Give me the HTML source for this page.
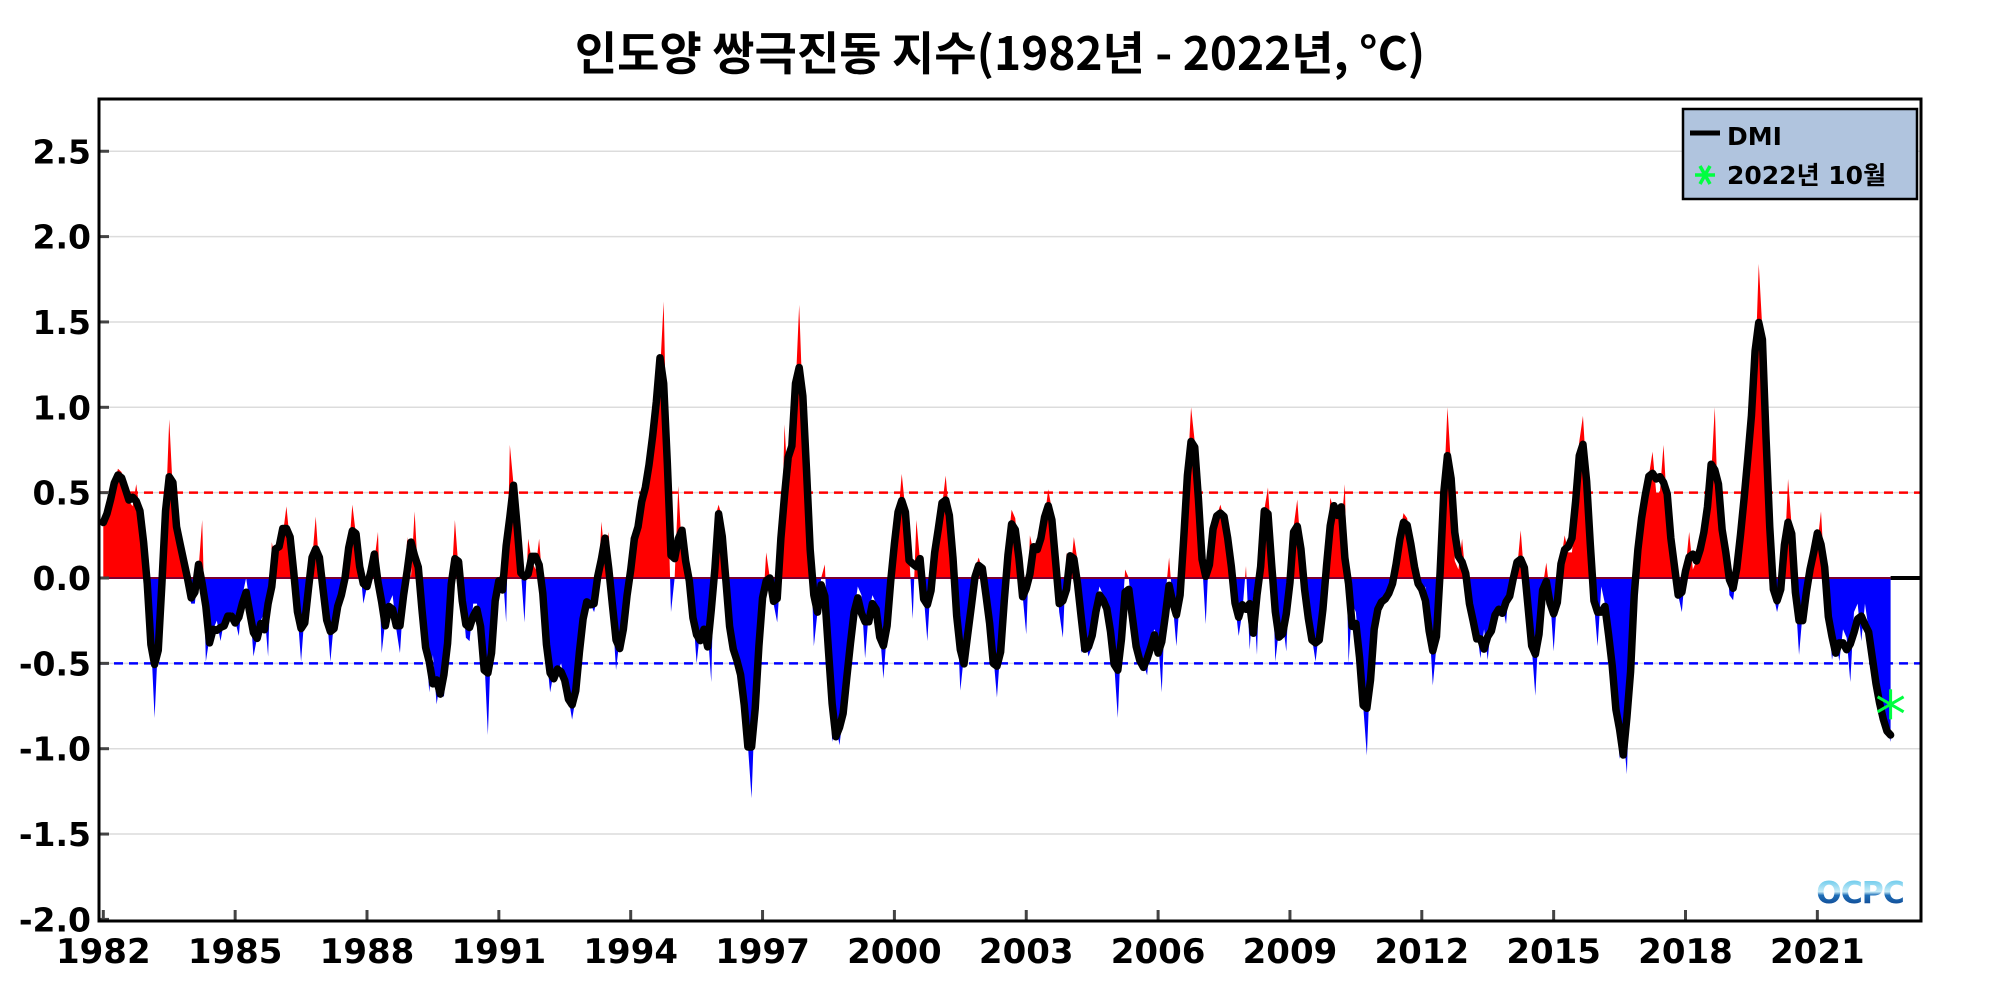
<!DOCTYPE html>
<html><head><meta charset="utf-8"><title>DMI</title>
<style>
html,body{margin:0;padding:0;background:#fff;}
svg{display:block;}
text{font-family:"DejaVu Sans","Noto Sans CJK KR",sans-serif;font-weight:bold;}
</style></head>
<body>
<svg id="chart" width="2000" height="1000" viewBox="0 0 2000 1000" xmlns="http://www.w3.org/2000/svg">
  <defs>
    <clipPath id="clipPos"><rect x="99" y="99" width="1822" height="479"/></clipPath>
    <clipPath id="clipNeg"><rect x="99" y="578" width="1822" height="343"/></clipPath>
    <linearGradient id="logoGrad" x1="0" y1="0" x2="0" y2="1">
      <stop offset="0" stop-color="#4fc0e8"/><stop offset="0.45" stop-color="#c8ecf8"/><stop offset="0.55" stop-color="#1f6fb8"/><stop offset="1" stop-color="#08347f"/>
    </linearGradient>
  </defs>
  <text x="1000" y="70" text-anchor="middle" font-size="46" style="font-family:'Noto Sans CJK KR','DejaVu Sans',sans-serif;font-weight:bold">인도양 쌍극진동 지수(1982년 - 2022년, °C)</text>
  <g id="grid"></g>
  <g id="series"></g>
  <g id="axes"></g>
  <rect x="99" y="99" width="1822" height="822" fill="none" stroke="#000" stroke-width="3"/>
  <g>
    <rect x="1683" y="109" width="234" height="90" fill="#b0c4de" stroke="#000" stroke-width="2.5"/>
    <line x1="1690" y1="133" x2="1720" y2="133" stroke="#000" stroke-width="5"/>
    <text x="1727" y="145" font-size="25">DMI</text>
    <g stroke="#00ff40" stroke-width="3.5">
      <line x1="1695" y1="175" x2="1715" y2="175"/>
      <line x1="1700" y1="166" x2="1710" y2="184"/>
      <line x1="1710" y1="166" x2="1700" y2="184"/>
    </g>
    <text x="1727" y="184" font-size="25">2022년 10월</text>
  </g>
  <text x="1860" y="903" text-anchor="middle" font-size="30" fill="url(#logoGrad)" style="font-family:'DejaVu Sans',sans-serif;font-weight:bold;letter-spacing:-1px">OCPC</text>
</svg>
<script>
const yTicks = [2.5, 2.0, 1.5, 1.0, 0.5, 0.0, -0.5, -1.0, -1.5, -2.0];
const yTickLabels = ["2.5","2.0","1.5","1.0","0.5","0.0","-0.5","-1.0","-1.5","-2.0"];
const xTickYears = [1982,1985,1988,1991,1994,1997,2000,2003,2006,2009,2012,2015,2018,2021];
const startYear = 1982;
const thresholds = [0.5, -0.5];
const latestValue = -0.74;
const dmiMonthly = [
.30,.35,.48,.55,.64,.62,.50,.45,.42,.55,.38,.25,
.0,-.35,-.82,-.35,-.1,.35,.93,.50,.25,.15,.19,-.05,
-.15,-.15,.05,.34,-.49,-.35,-.30,-.25,-.37,-.25,-.22,-.2,
-.25,-.34,-.1,.0,-.15,-.46,-.35,-.25,-.2,-.46,.21,.1,
.2,.25,.42,.2,.1,-.2,-.49,-.2,-.1,.1,.36,.05,
-.05,-.2,-.49,-.25,-.15,-.1,-.05,.15,.43,.25,.1,-.15,
-.05,.05,.1,.27,-.44,-.25,-.15,-.1,-.3,-.44,-.1,.24,
.0,.39,.0,-.2,-.35,-.67,-.45,-.74,-.6,-.70,-.4,-.05,
.34,.05,-.1,-.35,-.37,-.15,-.15,-.25,-.45,-.92,-.3,-.1,
.0,.05,-.26,.78,.55,.3,.05,-.26,.23,.1,.05,.23,
-.05,-.45,-.67,-.55,-.55,-.5,-.6,-.7,-.83,-.7,-.45,-.15,
-.12,-.15,-.2,-.1,.33,.1,.27,-.2,-.54,-.35,-.35,-.2,
.24,.1,.35,.45,.54,.6,.85,1.05,1.2,1.62,.6,-.2,
.0,.54,.15,.15,.0,-.2,-.5,-.3,-.3,-.3,-.61,.35,
.43,.35,-.05,-.35,-.45,-.45,-.55,-.7,-.98,-1.29,-.7,-.3,
-.2,.15,.0,-.15,-.26,.05,.9,.5,.72,1.1,1.6,1.0,
.6,.3,-.4,-.2,.0,.08,-.4,-.96,-.85,-.98,-.8,-.6,
-.35,-.2,-.05,-.1,-.47,-.2,-.1,-.15,-.3,-.59,-.3,.05,
.2,.35,.61,.4,.15,-.24,.34,.1,-.1,-.37,.0,.15,
.3,.42,.6,.35,.15,-.15,-.66,-.45,-.4,-.15,.05,.12,
.05,.0,-.35,-.45,-.7,-.4,-.2,.2,.4,.35,.1,-.1,
-.33,.25,.15,.15,.2,.35,.52,.4,.1,-.2,-.35,.15,
.0,.24,.1,-.44,-.35,-.46,-.4,-.15,-.05,-.1,-.24,-.2,
-.5,-.82,-.3,.05,.0,-.25,-.45,-.5,-.5,-.57,-.35,-.3,
-.35,-.67,-.1,.12,-.15,-.4,-.1,.2,.6,1.0,.8,.5,
.1,-.27,.2,.3,.36,.43,.35,.3,.05,-.15,-.34,-.2,
.07,-.42,-.1,-.45,.25,.4,.53,.2,-.49,-.3,-.25,-.43,
.05,.3,.46,.15,-.1,-.25,-.35,-.49,-.3,-.3,.05,.47,
.4,.4,.3,.55,-.5,-.15,-.2,-.45,-.75,-1.04,-.5,-.25,
-.15,-.15,-.12,-.1,-.05,.05,.25,.38,.35,.2,.05,-.05,
-.1,-.05,-.25,-.63,-.4,.0,.5,1.0,.65,.1,.05,.23,
.0,-.15,-.3,-.3,-.47,-.3,-.48,-.25,-.2,-.2,-.15,-.27,
.0,-.05,.05,.28,.0,-.1,-.4,-.69,-.25,-.05,.09,-.1,
-.43,-.1,.1,.25,.15,.15,.4,.8,.95,.6,.15,-.15,
-.4,-.05,-.15,-.3,-.55,-.7,-1.06,-.9,-1.15,-.4,-.1,.2,
.4,.45,.6,.74,.5,.5,.78,.4,.3,.0,-.1,-.2,
.05,.27,.05,.1,.15,.25,.4,.6,1.0,.3,.35,.2,
-.1,-.13,.05,.25,.45,.7,.95,1.2,1.84,1.45,.9,.1,
-.1,-.2,-.1,.1,.58,.3,-.1,-.45,-.2,-.1,.05,.2,
.2,.39,.0,-.2,-.48,-.35,-.49,-.3,-.35,-.61,-.2,-.15,
-.37,-.15,-.3,-.5,-.6,-.75,-.85,-.88,-.96
];

const NS = "http://www.w3.org/2000/svg";
const PL = 99, PR = 1921, PT = 99, PB = 921;
function xScale(yearFrac){ return 103.3 + (yearFrac - startYear) * 43.95; }
function yScale(v){ return 578 - v * 170.7; }
function xMonth(i){ return xScale(startYear + i / 12); }
function mk(tag, attrs, parent){
  const el = document.createElementNS(NS, tag);
  for (const k in attrs) el.setAttribute(k, attrs[k]);
  parent.appendChild(el);
  return el;
}
const grid = document.getElementById('grid');
const axes = document.getElementById('axes');
const series = document.getElementById('series');

yTicks.forEach((v, i) => {
  const y = yScale(v);
  if (v > -2 && v < 2.8) {
    const g = mk('line', {x1: PL, x2: PR, y1: y, y2: y, stroke: '#dcdcdc', 'stroke-width': 1.5}, grid);
    
    
  }
  const t = mk('line', {x1: PL, x2: PL + 10, y1: y, y2: y, stroke: '#444', 'stroke-width': 3}, axes);
  
  
  const lb = mk('text', {x: 91, y: y + 12, 'text-anchor': 'end', 'font-size': 33}, axes);
  lb.textContent = yTickLabels[i];
  
  
});
xTickYears.forEach(yr => {
  const x = xScale(yr);
  const t = mk('line', {x1: x, x2: x, y1: PB, y2: PB - 11, stroke: '#444', 'stroke-width': 3}, axes);
  
  
  const lb = mk('text', {x: x, y: 963, 'text-anchor': 'middle', 'font-size': 34}, axes);
  lb.textContent = String(yr);
  
  
});

const n = dmiMonthly.length;
let d = 'M' + xMonth(0) + ',' + yScale(0);
for (let i = 0; i < n; i++) d += ' L' + xMonth(i).toFixed(2) + ',' + yScale(dmiMonthly[i]).toFixed(2);
d += ' L' + xMonth(n - 1).toFixed(2) + ',' + yScale(0) + ' Z';
const pos = mk('path', {d: d, fill: '#ff0000', 'clip-path': 'url(#clipPos)'}, series);


const neg = mk('path', {d: d, fill: '#0000ff', 'clip-path': 'url(#clipNeg)'}, series);



const z1 = mk('line', {x1: xMonth(0), x2: xMonth(n - 1), y1: yScale(0), y2: yScale(0), stroke: '#7a0030', 'stroke-width': 2}, series);


const z2 = mk('line', {x1: xMonth(n - 1), x2: PR, y1: yScale(0), y2: yScale(0), stroke: '#000', 'stroke-width': 4}, series);



thresholds.forEach(v => {
  const l = mk('line', {x1: PL, x2: PR, y1: yScale(v), y2: yScale(v), stroke: v > 0 ? '#ff0000' : '#0000ff', 'stroke-width': 2.5, 'stroke-dasharray': '9,6'}, series);
  
  
});

let pts = [];
for (let i = 0; i < n; i++) {
  let s = 0, c = 0;
  for (let j = i - 1; j <= i + 1; j++) if (j >= 0 && j < n) { s += dmiMonthly[j]; c++; }
  pts.push(xMonth(i).toFixed(2) + ',' + yScale(s / c).toFixed(2));
}
const line = mk('polyline', {points: pts.join(' '), fill: 'none', stroke: '#000', 'stroke-width': 7.5, 'stroke-linejoin': 'round', 'stroke-linecap': 'round'}, series);



const sx = xMonth(n - 1), sy = yScale(latestValue);
const star = mk('g', {stroke: '#00ff40', 'stroke-width': 3}, series);


[0, 60, 120].forEach(a => {
  const r = a * Math.PI / 180, L = 15;
  mk('line', {x1: sx - L * Math.sin(r), y1: sy - L * Math.cos(r), x2: sx + L * Math.sin(r), y2: sy + L * Math.cos(r)}, star);
});
</script>
</body></html>
